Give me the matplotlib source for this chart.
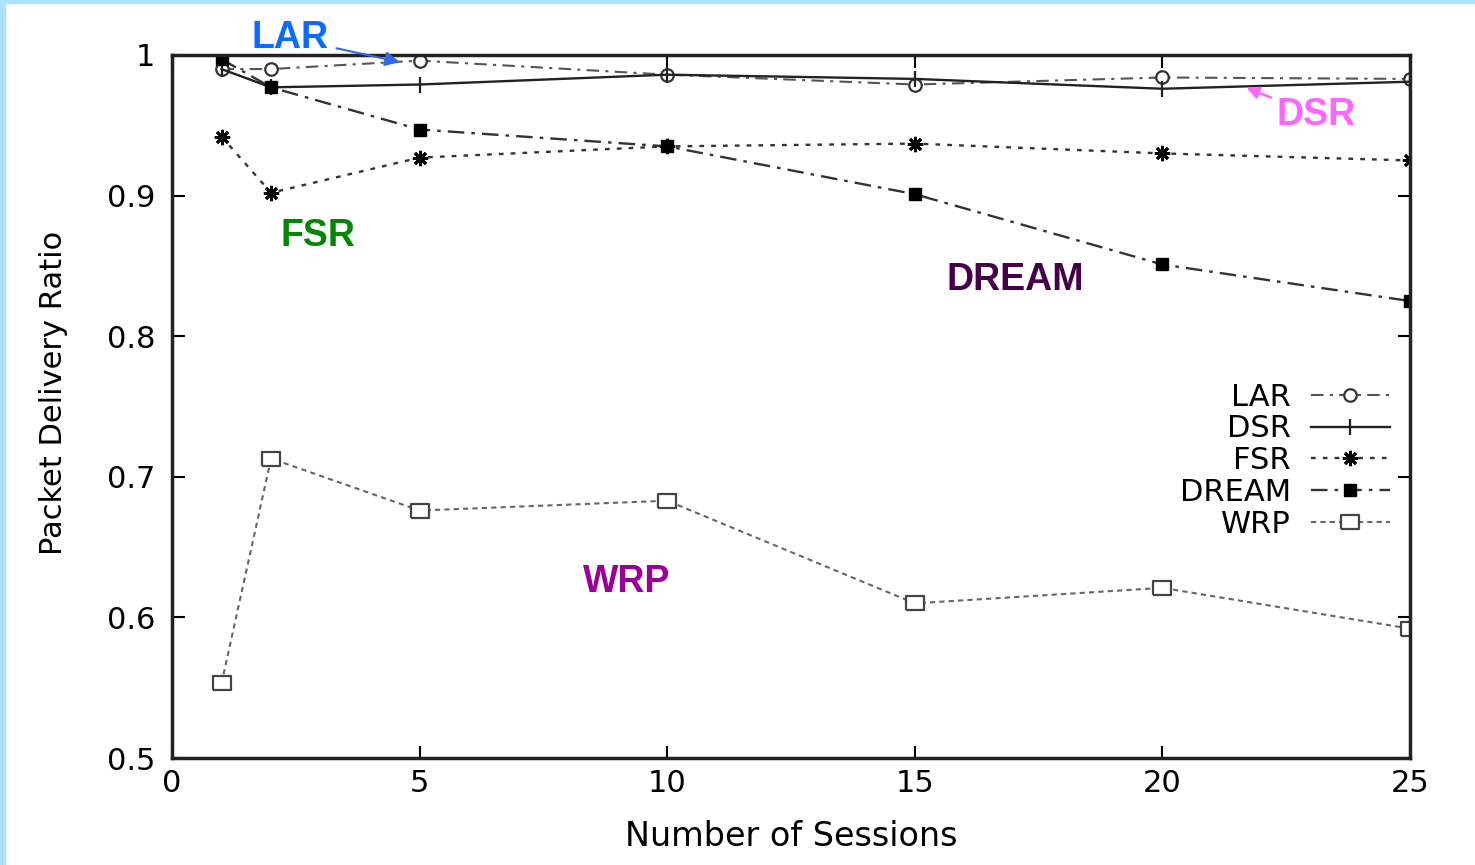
import numpy as np
import matplotlib
matplotlib.use("Agg")
from matplotlib import pyplot as plt
from matplotlib.patches import Rectangle

# data
sessions = [1, 2, 5, 10, 15, 20, 25]
lar = [0.990, 0.990, 0.996, 0.986, 0.979, 0.984, 0.983]
dsr = [0.990, 0.977, 0.979, 0.986, 0.983, 0.976, 0.981]
fsr = [0.942, 0.902, 0.927, 0.935, 0.937, 0.930, 0.925]
dream = [0.997, 0.977, 0.947, 0.935, 0.901, 0.851, 0.825]
wrp = [0.553, 0.713, 0.676, 0.683, 0.610, 0.621, 0.592]

xticks = [0, 5, 10, 15, 20, 25]
yticks = [0.5, 0.6, 0.7, 0.8, 0.9, 1.0]

plt.rcParams['font.family'] = ['DejaVu Sans']

fig = plt.figure(figsize=(14.75, 8.65), dpi=100)
ax = fig.add_axes([172 / 1475, 1 - 758 / 865, 1238 / 1475, 703 / 865])

# light blue frame bits on the left and top of the slide
fig.patches.append(Rectangle((0, 0), 5 / 1475, 1, transform=fig.transFigure,
                             color="#aee0ff", zorder=-1))
fig.patches.append(Rectangle((0, 1 - 3 / 865), 1, 3 / 865, transform=fig.transFigure,
                             color="#aee0ff", zorder=-1))

box = [(-1.35, -1), (1.35, -1), (1.35, 1), (-1.35, 1), (-1.35, -1)]

ax.plot(sessions, lar, linestyle=(0, (6, 3, 1.5, 3)), color="#555555", lw=1.5,
        marker="o", ms=9, mfc="white", mec="#333333", mew=1.6, label="LAR")
ax.plot(sessions, dsr, linestyle="-", color="#222222", lw=1.7,
        marker="|", ms=12, mec="#222222", mew=1.6, label="DSR")
ax.plot(sessions, fsr, linestyle=(0, (2, 3)), color="#333333", lw=1.7,
        marker=(8, 2, 0), ms=11, mec="black", mew=2, label="FSR")
ax.plot(sessions, dream, linestyle=(0, (7, 3, 1.5, 3)), color="#333333", lw=1.7,
        marker="s", ms=9, mfc="black", mec="black", label="DREAM")
ax.plot(sessions, wrp, linestyle=(0, (2.5, 2)), color="#666666", lw=1.5,
        marker=box, ms=13, mfc="white", mec="#444444", mew=1.6, label="WRP")

ax.set_xlim(0, 25)
ax.set_ylim(0.5, 1.0)
ax.set_xticks(xticks)
ax.set_yticks(yticks)
ax.set_xticklabels([f"{t:g}" for t in xticks])
ax.set_yticklabels([f"{t:g}" for t in yticks])
ax.tick_params(direction="in", length=9, width=1.5, top=True, right=True,
               labelsize=22, colors="black")
ax.tick_params(axis="x", pad=8)
ax.tick_params(axis="y", pad=12)
for s in ax.spines.values():
    s.set_linewidth(2.5)
    s.set_color("#222222")

ax.set_xlabel("Number of Sessions", fontsize=24, labelpad=16)
ax.set_ylabel("Packet Delivery Ratio", fontsize=22)
ax.yaxis.set_label_coords(-0.084, 0.519)

leg = ax.legend(loc="upper right", bbox_to_anchor=(0.984, 0.534), frameon=False,
                markerfirst=False, fontsize=22, handlelength=2.6,
                handletextpad=0.65, labelspacing=0.09, borderpad=0,
                borderaxespad=0)

# coloured protocol names added on the slide
bold = dict(fontsize=27, fontweight="bold", family=["Liberation Sans", "DejaVu Sans"])
ax.annotate("LAR", xy=(4.6, 0.995), xytext=(1.6, 1.012), color="#0a6cff",
            ha="left", va="center", annotation_clip=False,
            arrowprops=dict(arrowstyle="-|>", color="#3366ee", lw=1.5,
                            mutation_scale=22, shrinkA=4, shrinkB=0), **bold)
ax.annotate("DSR", xy=(21.7, 0.9765), xytext=(22.3, 0.9575), color="#ff66ff",
            ha="left", va="center",
            arrowprops=dict(arrowstyle="-|>", color="#ff66ff", lw=1.8,
                            mutation_scale=18, shrinkA=2, shrinkB=0), **bold)
ax.text(2.2, 0.8715, "FSR", color="#008800", ha="left", va="center", **bold)
ax.text(15.65, 0.840, "DREAM", color="#47004a", ha="left", va="center", **bold)
ax.text(8.3, 0.625, "WRP", color="#990099", ha="left", va="center", **bold)

fig.savefig("out.png", dpi=100, facecolor="white")
